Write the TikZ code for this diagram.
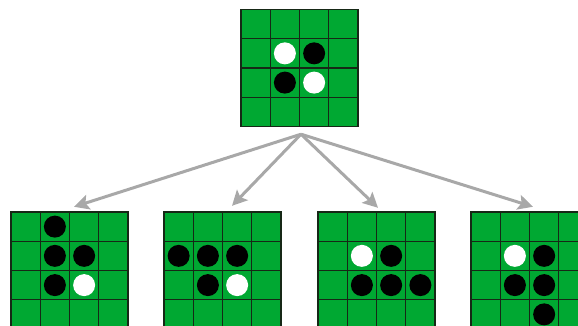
\documentclass[tikz,border=0pt]{standalone}
\usepackage{tikz}
\usetikzlibrary{arrows.meta}

\definecolor{boardgreen}{RGB}{0,168,50}
\definecolor{linedark}{RGB}{22,40,22}
\definecolor{arrowgray}{RGB}{168,168,168}

\newcommand{\cellsize}{29.25}

% one 4x4 board: name, south-west x, south-west y, black discs, white discs (col/row, row 0 on top)
\newcommand{\othelloboard}[5]{%
  \begin{scope}[shift={(#2,#3)}]
    \fill[boardgreen] (0,0) rectangle (4*\cellsize,4*\cellsize);
    \foreach \i in {1,2,3}
      \draw[gridline] (\i*\cellsize,0) -- (\i*\cellsize,4*\cellsize)
                      (0,\i*\cellsize) -- (4*\cellsize,\i*\cellsize);
    \draw[gridline] (0,0) rectangle (4*\cellsize,4*\cellsize);
    \foreach \c/\r in {#4}
      \fill[black] ({(\c+0.5)*\cellsize},{(3.5-\r)*\cellsize}) circle (11pt);
    \foreach \c/\r in {#5}
      \fill[white] ({(\c+0.5)*\cellsize},{(3.5-\r)*\cellsize}) circle (11pt);
    \node[boardnode] (#1) at (2*\cellsize,2*\cellsize) {};
  \end{scope}}

\begin{document}
\begin{tikzpicture}[x=1pt,y=1pt,
    gridline/.style={draw=linedark,line width=1.3pt},
    boardnode/.style={rectangle,minimum size=117pt,inner sep=0pt},
    move/.style={draw=arrowgray,line width=3pt,-{Stealth[length=15pt,width=15pt,inset=3pt]}}]
    \useasboundingbox (0,0) rectangle (578,326);
    \clip (0,0) rectangle (578,326);

    % starting position
    \othelloboard{root}{241}{199.5}{2/1,1/2}{1/1,2/2}

    % positions after each of black's moves
    \othelloboard{m1}{11}{-3}{1/0,1/1,2/1,1/2}{2/2}
    \othelloboard{m2}{164}{-3}{0/1,1/1,2/1,1/2}{2/2}
    \othelloboard{m3}{318}{-3}{2/1,1/2,2/2,3/2}{1/1}
    \othelloboard{m4}{471}{-3}{2/1,1/2,2/2,2/3}{1/1}

    % moves
    \coordinate (fork) at ([xshift=1.5pt,yshift=-7.5pt]root.south);
    \draw[move] (fork) -- ([xshift=4.5pt,yshift=5pt]m1.north);
    \draw[move] (fork) -- ([xshift=9.5pt,yshift=6pt]m2.north);
    \draw[move] (fork) -- ([xshift=1.5pt,yshift=4pt]m3.north);
    \draw[move] (fork) -- ([xshift=3.5pt,yshift=5pt]m4.north);
\end{tikzpicture}
\end{document}
